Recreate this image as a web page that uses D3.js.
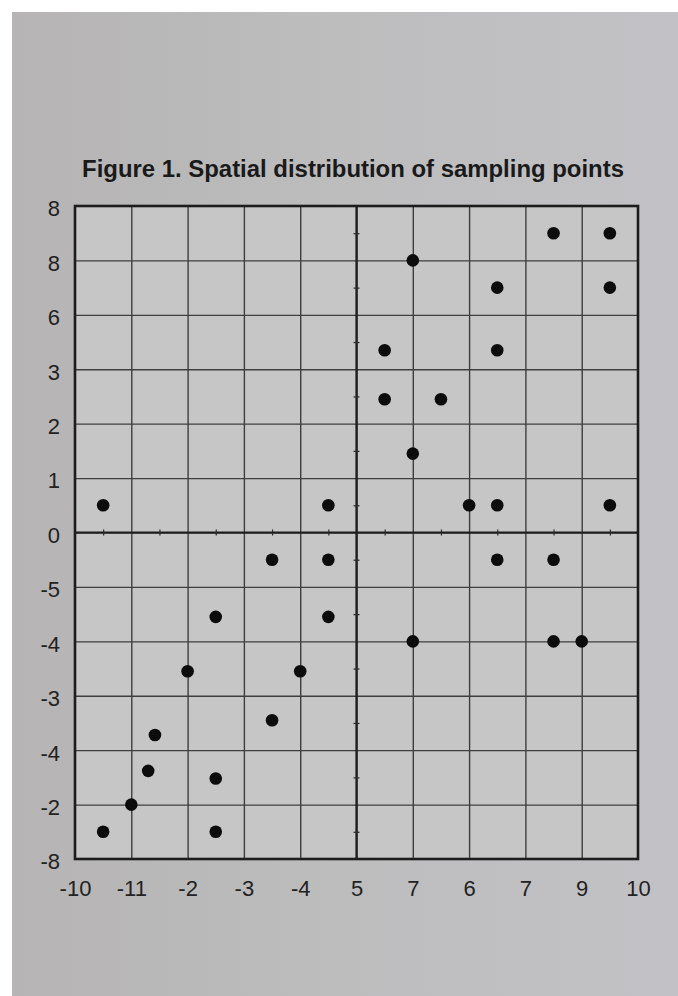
<!DOCTYPE html>
<html>
<head>
<meta charset="utf-8">
<script src="https://cdn.jsdelivr.net/npm/d3@7"></script>
<style>
  html, body { margin: 0; padding: 0; background: #fff; }
  svg { display: block; }
</style>
</head>
<body>
<div id="chart"></div>
<script>
// Tick labels as printed (grid positions 0..10 left to right, 0..12 bottom to top)
const xTickLabels = ["-10", "-11", "-2", "-3", "-4", "5", "7", "6", "7", "9", "10"];
const yTickLabels = ["-8", "-2", "-4", "-3", "-4", "-5", "0", "1", "2", "3", "6", "8", "8"];

// Sampling points in grid units (column from left, row from bottom)
const pointX = [8.5, 9.5, 6, 7.5, 9.5, 5.5, 7.5, 5.5, 6.5, 6, 7, 7.5, 9.5,
                0.5, 4.5,
                3.5, 4.5, 2.5, 4.5, 2, 4, 3.5, 1.42, 1.3, 2.5, 1, 0.5, 2.5,
                7.5, 8.5, 6, 8.5, 9];
const pointY = [11.5, 11.5, 11, 10.5, 10.5, 9.35, 9.35, 8.45, 8.45, 7.45, 6.5, 6.5, 6.5,
                6.5, 6.5,
                5.5, 5.5, 4.45, 4.45, 3.45, 3.45, 2.55, 2.28, 1.62, 1.48, 1, 0.5, 0.5,
                5.5, 5.5, 4, 4, 4];

const title = "Figure 1. Spatial distribution of sampling points";

const width = 678, height = 996;
const plot = { left: 75, right: 638, top: 206, bottom: 859 };

const svg = d3.select("#chart").append("svg")
  .attr("width", width)
  .attr("height", height);

// Paper background (photo look)
const defs = svg.append("defs");
const grad = defs.append("linearGradient").attr("id", "paper")
  .attr("x1", "0").attr("y1", "0").attr("x2", "1").attr("y2", "0");
grad.append("stop").attr("offset", "0").attr("stop-color", "#b6b4b4");
grad.append("stop").attr("offset", "0.5").attr("stop-color", "#bdbdbe");
grad.append("stop").attr("offset", "1").attr("stop-color", "#c2c2c6");

svg.append("rect")
  .attr("x", 12).attr("y", 12)
  .attr("width", width - 12).attr("height", height - 12)
  .attr("fill", "url(#paper)");

svg.append("rect")
  .attr("x", plot.left).attr("y", plot.top)
  .attr("width", plot.right - plot.left).attr("height", plot.bottom - plot.top)
  .attr("fill", "#c6c6c6");

// Scales
const x = d3.scaleLinear().domain([0, 10]).range([plot.left, plot.right]);
const y = d3.scaleLinear().domain([0, 12]).range([plot.bottom, plot.top]);

// Gridlines
svg.append("g")
  .attr("transform", `translate(0,${plot.bottom})`)
  .call(d3.axisBottom(x).tickValues(d3.range(1, 10)).tickSize(-(plot.bottom - plot.top)).tickFormat(""))
  .call(g => g.select(".domain").remove())
  .call(g => g.selectAll("line").attr("stroke", "#3e3e3e").attr("stroke-width", 1.4));

svg.append("g")
  .attr("transform", `translate(${plot.left},0)`)
  .call(d3.axisLeft(y).tickValues(d3.range(1, 12)).tickSize(-(plot.right - plot.left)).tickFormat(""))
  .call(g => g.select(".domain").remove())
  .call(g => g.selectAll("line").attr("stroke", "#3e3e3e").attr("stroke-width", 1.4));

// Centre axes with small half-step ticks
svg.append("line")
  .attr("x1", x(5)).attr("x2", x(5))
  .attr("y1", y(0)).attr("y2", y(12))
  .attr("stroke", "#1e1e1e").attr("stroke-width", 2.2);

svg.append("line")
  .attr("x1", x(0)).attr("x2", x(10))
  .attr("y1", y(6)).attr("y2", y(6))
  .attr("stroke", "#1e1e1e").attr("stroke-width", 2.2);

svg.append("g")
  .attr("transform", `translate(${x(5) + 3},0)`)
  .call(d3.axisLeft(y).tickValues(d3.range(0.5, 12, 1)).tickSize(6).tickFormat(""))
  .call(g => g.select(".domain").remove())
  .call(g => g.selectAll("line").attr("stroke", "#2a2a2a").attr("stroke-width", 1.2));

svg.append("g")
  .attr("transform", `translate(0,${y(6) - 3})`)
  .call(d3.axisBottom(x).tickValues(d3.range(0.5, 10, 1)).tickSize(6).tickFormat(""))
  .call(g => g.select(".domain").remove())
  .call(g => g.selectAll("line").attr("stroke", "#2a2a2a").attr("stroke-width", 1.2));

// Frame
svg.append("rect")
  .attr("x", plot.left).attr("y", plot.top)
  .attr("width", plot.right - plot.left).attr("height", plot.bottom - plot.top)
  .attr("fill", "none")
  .attr("stroke", "#1c1c1c").attr("stroke-width", 2.6);

// Axis labels
svg.append("g")
  .attr("transform", `translate(0,${plot.bottom})`)
  .call(d3.axisBottom(x).tickValues(d3.range(0, 11)).tickSize(0).tickPadding(37)
    .tickFormat(i => xTickLabels[i]))
  .call(g => g.select(".domain").remove())
  .call(g => g.selectAll("text")
    .attr("dy", 0)
    .style("font-family", "'Liberation Sans', Arial, sans-serif")
    .style("font-size", "22px")
    .attr("fill", "#222"));

svg.append("g")
  .attr("transform", `translate(${plot.left},0)`)
  .call(d3.axisLeft(y).tickValues(d3.range(0, 13)).tickSize(0).tickPadding(15)
    .tickFormat(i => yTickLabels[i]))
  .call(g => g.select(".domain").remove())
  .call(g => g.selectAll("text")
    .attr("dy", "0.45em")
    .style("font-family", "'Liberation Sans', Arial, sans-serif")
    .style("font-size", "22px")
    .attr("fill", "#222"));

// Points
svg.append("g")
  .selectAll("circle")
  .data(d3.range(pointX.length))
  .enter()
  .append("circle")
  .attr("cx", i => x(pointX[i]))
  .attr("cy", i => y(pointY[i]))
  .attr("r", 6.3)
  .attr("fill", "#0c0c0c");

// Title, fitted to the printed width
const t = svg.append("text")
  .attr("x", (82 + 624) / 2)
  .attr("y", 177)
  .attr("text-anchor", "middle")
  .style("font-family", "'Liberation Sans', Arial, sans-serif")
  .style("font-weight", "bold")
  .style("font-size", "20px")
  .attr("fill", "#1a1a1a")
  .text(title);
const w = t.node().getComputedTextLength();
t.style("font-size", (20 * 542 / w).toFixed(2) + "px");
</script>
</body>
</html>
